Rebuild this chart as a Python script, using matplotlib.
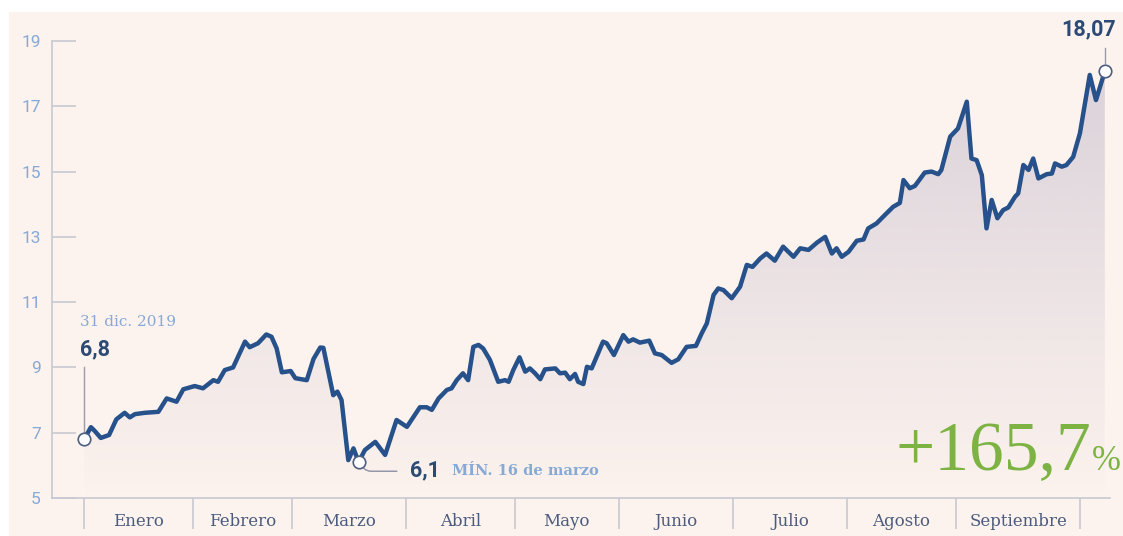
import matplotlib
matplotlib.use("Agg")
import matplotlib.pyplot as plt
from matplotlib.patches import Polygon, Rectangle
import numpy as np

# Sesiones bursátiles desde el 31 dic. 2019 (índice 0) y cotización en euros
sessions = [0, 1.3, 2.0, 3.2, 4.8, 6.2, 7.8, 8.8, 9.8, 11.7, 14.3, 15.9, 17.8, 19.1,
            21.3, 22.9, 24.9, 25.8, 27.1, 28.7, 31.0, 31.9, 33.5, 35.1, 36.1, 37.1,
            38.1, 39.8, 40.7, 42.9, 44.2, 45.5, 46.1, 48.0, 48.8, 49.6, 50.9, 51.9,
            52.9, 54.1, 56.1, 58.0, 60.2, 62.2, 64.7, 66.0, 67.0, 68.3, 69.9, 70.8,
            71.8, 73.0, 74.0, 75.0, 76.0, 76.9, 78.2, 79.8, 81.1, 81.8, 82.7, 83.9,
            85.0, 85.9, 86.9, 87.9, 88.8, 90.8, 91.7, 92.7, 93.6, 94.6, 95.2, 96.2,
            96.9, 97.8, 100.0, 100.7, 102.1, 103.9, 104.9, 105.8, 107.1, 108.9, 110.0,
            111.3, 113.2, 114.5, 116.1, 117.9, 119.0, 120.0, 121.3, 122.2, 123.2,
            124.8, 126.4, 127.7, 128.8, 130.3, 131.5, 133.1, 134.7, 136.7, 138.0,
            139.6, 141.2, 142.8, 144.1, 145.0, 146.0, 147.3, 148.9, 150.2, 151.1,
            152.7, 154.0, 155.9, 157.2, 157.9, 159.1, 160.1, 162.0, 163.3, 164.6,
            165.2, 166.9, 168.4, 170.1, 171.0, 172.0, 173.0, 173.9, 174.9, 176.0,
            177.1, 178.1, 179.4, 180.0, 181.0, 182.0, 182.9, 183.9, 185.5, 186.5,
            187.1, 188.4, 189.3, 190.6, 191.9, 193.8, 195.0, 196.7]
prices = [6.80, 7.17, 7.06, 6.84, 6.93, 7.41, 7.61, 7.47, 7.57, 7.61, 7.64, 8.05, 7.95, 8.33,
          8.43, 8.36, 8.61, 8.56, 8.92, 9.00, 9.79, 9.62, 9.74, 10.01, 9.94, 9.58,
          8.85, 8.89, 8.67, 8.61, 9.26, 9.61, 9.60, 8.15, 8.26, 8.00, 6.16, 6.52,
          6.10, 6.47, 6.72, 6.32, 7.39, 7.18, 7.78, 7.78, 7.70, 8.05, 8.31, 8.36,
          8.61, 8.82, 8.61, 9.63, 9.69, 9.58, 9.23, 8.56, 8.61, 8.56, 8.92, 9.31,
          8.87, 8.97, 8.82, 8.64, 8.94, 8.97, 8.82, 8.84, 8.64, 8.80, 8.56, 8.49,
          9.02, 8.97, 9.79, 9.74, 9.38, 9.99, 9.79, 9.86, 9.76, 9.82, 9.43,
          9.38, 9.14, 9.25, 9.63, 9.66, 10.04, 10.35, 11.22, 11.42, 11.37,
          11.12, 11.47, 12.14, 12.08, 12.34, 12.49, 12.27, 12.70, 12.39, 12.65,
          12.60, 12.82, 13.00, 12.49, 12.65, 12.39, 12.54, 12.88, 12.92, 13.26,
          13.41, 13.62, 13.92, 14.04, 14.74, 14.49, 14.56, 14.97, 15.00, 14.92,
          15.05, 16.07, 16.32, 17.14, 15.40, 15.35, 14.89, 13.26, 14.13, 13.57,
          13.82, 13.90, 14.23, 14.33, 15.20, 15.05, 15.40, 14.79, 14.92, 14.94,
          15.25, 15.15, 15.20, 15.45, 16.17, 17.96, 17.19, 18.07]

# Primera sesión de cada mes (la última marca es el 1 de octubre)
month_starts = [0, 21, 40, 62, 83, 103, 125, 147, 168, 192]
month_names = ["Enero", "Febrero", "Marzo", "Abril", "Mayo", "Junio",
               "Julio", "Agosto", "Septiembre"]
y_ticks = [5, 7, 9, 11, 13, 15, 17, 19]

start_value = 6.8
min_value = 6.1
min_session = 52.9
end_value = 18.07
change_pct = 165.7

LINE = "#27518a"
TICK_TXT = "#86a9d6"
DARK_TXT = "#2c4a74"
GREY = "#c8c8d2"
CREAM = "#fcf3ee"
GREEN = "#7cb342"


def fmt(v, dec):
    return f"{v:.{dec}f}".replace(".", ",")


fig = plt.figure(figsize=(11.23, 5.36), dpi=100, facecolor="white")
fig.patches.append(Rectangle((9 / 1123, 0), 1, (536 - 12) / 536,
                             transform=fig.transFigure, facecolor=CREAM,
                             edgecolor="none", zorder=-10))
ax = fig.add_axes([52 / 1123, (536 - 498) / 536, (1110 - 52) / 1123, (498 - 41) / 536])
ax.set_facecolor("none")

x = np.array(sessions)
y = np.array(prices)

# degradado bajo la curva, recortado con el área de la serie
grad = np.zeros((256, 2, 4))
grad[..., 0] = 188 / 255
grad[..., 1] = 178 / 255
grad[..., 2] = 200 / 255
grad[..., 3] = np.linspace(0.0, 0.55, 256)[:, None]
im = ax.imshow(grad, extent=[x[0], x[-1], 5, 19], origin="lower",
               aspect="auto", zorder=1, interpolation="bilinear")
area = Polygon(np.column_stack([np.r_[x, x[-1], x[0]], np.r_[y, 5, 5]]),
               closed=True, facecolor="none", edgecolor="none")
ax.add_patch(area)
im.set_clip_path(area)

ax.plot(x, y, color=LINE, lw=3.2, solid_joinstyle="round", zorder=3)

ax.set_xlim(-6.2, 197.7)
ax.set_ylim(5, 19)

for s in ["top", "right"]:
    ax.spines[s].set_visible(False)
ax.spines["left"].set_color(GREY)
ax.spines["bottom"].set_color(GREY)
ax.spines["left"].set_linewidth(1.2)
ax.spines["bottom"].set_linewidth(1.2)

ax.set_yticks(y_ticks)
ax.set_yticklabels([str(t) for t in y_ticks])
ax.tick_params(axis="y", direction="in", length=17, width=1.2, color=GREY,
               labelcolor=TICK_TXT, labelsize=12.5, pad=8)
for lab in ax.get_yticklabels():
    lab.set_fontfamily("Roboto")

ax.set_xticks(month_starts)
ax.set_xticklabels([])
ax.tick_params(axis="x", direction="out", length=22, width=1.2, color=GREY)

for i, name in enumerate(month_names):
    mid = (month_starts[i] + month_starts[i + 1]) / 2
    ax.annotate(name, xy=(mid, 0), xycoords=("data", "axes fraction"),
                xytext=(0, -17), textcoords="offset points", ha="center", va="center",
                fontsize=12, family="DejaVu Serif", color="#4b5b7e")

# marcadores de inicio, mínimo y cierre
for sx, sv in [(sessions[0], start_value), (min_session, min_value), (sessions[-1], end_value)]:
    ax.plot(sx, sv, "o", ms=9, mfc="white", mec="#4d5f80", mew=1.2, zorder=5, clip_on=False)

ax.plot([sessions[0], sessions[0]], [start_value + 0.2, 9.0], color="#9a9aa8", lw=1, zorder=2)
ax.text(sessions[0] - 0.8, 9.55, fmt(start_value, 1), fontsize=15.5, fontweight="bold",
        family="Roboto", color=DARK_TXT, va="center", ha="left")
ax.text(sessions[0] - 0.8, 10.4, "31 dic. 2019", fontsize=11, family="DejaVu Serif",
        color=TICK_TXT, va="center", ha="left")

ax.annotate("", xy=(min_session + 0.6, min_value - 0.1), xytext=(60.8, 5.82),
            arrowprops=dict(arrowstyle="-", color="#8b8fa3", lw=1,
                            connectionstyle="angle,angleA=0,angleB=-60,rad=6"))
ax.text(62.8, 5.86, fmt(min_value, 1), fontsize=15.5, fontweight="bold", family="Roboto",
        color=DARK_TXT, va="center", ha="left")
ax.text(70.8, 5.84, "MÍN. 16 de marzo", fontsize=10.5, family="DejaVu Serif",
        fontweight="bold", color=TICK_TXT, va="center", ha="left")

ax.plot([sessions[-1], sessions[-1]], [end_value + 0.25, 18.8], color="#9a9aa8", lw=1,
        zorder=2, clip_on=False)
ax.text(sessions[-1] + 2.2, 19.35, fmt(end_value, 2), fontsize=15.5, fontweight="bold",
        family="Roboto", color=DARK_TXT, va="center", ha="right", clip_on=False)

ax.text(194.0, 5.86, "+" + fmt(change_pct, 1), fontsize=50, family="Liberation Serif",
        color=GREEN, ha="right", va="baseline", zorder=4)
ax.text(194.2, 5.86, "%", fontsize=25, family="Liberation Serif",
        color=GREEN, ha="left", va="baseline", zorder=4)

fig.savefig("out.png", dpi=100, facecolor=fig.get_facecolor())
